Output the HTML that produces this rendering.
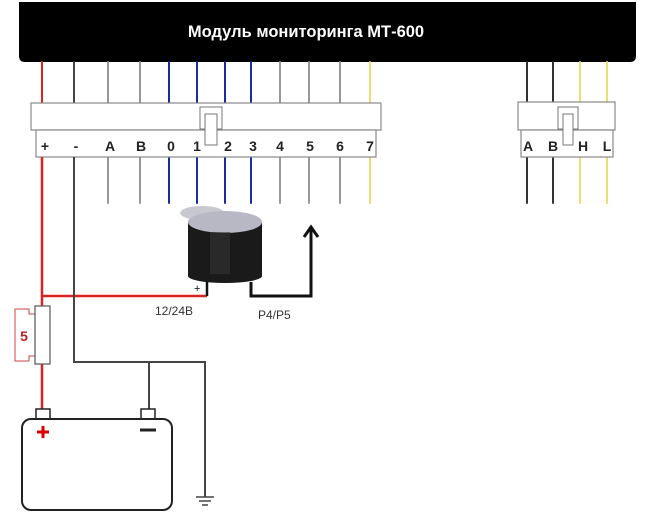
<!DOCTYPE html>
<html><head><meta charset="utf-8"><style>
html,body{margin:0;padding:0;background:#fff;}
svg{display:block;}
text{font-family:"Liberation Sans","DejaVu Sans",sans-serif;}
</style></head><body>
<svg width="656" height="522" viewBox="0 0 656 522" xmlns="http://www.w3.org/2000/svg">
<rect x="0" y="0" width="656" height="522" fill="#fff"/>
<path d="M19 2 H636 V56 Q636 62 630 62 H25 Q19 62 19 56 Z" fill="#000"/>
<text x="306" y="37" fill="#fff" font-size="16.5" font-weight="bold" text-anchor="middle">Модуль мониторинга МТ-600</text>
<g stroke-width="2" fill="none" stroke-linecap="round">
<line x1="42" y1="62" x2="42" y2="103" stroke="#d22"/>
<line x1="74" y1="62" x2="74" y2="103" stroke="#444"/>
<line x1="108" y1="62" x2="108" y2="203" stroke="#999"/>
<line x1="140" y1="62" x2="140" y2="203" stroke="#999"/>
<line x1="169" y1="62" x2="169" y2="203" stroke="#1a2aa0"/>
<line x1="197" y1="62" x2="197" y2="203" stroke="#1a2aa0"/>
<line x1="225" y1="62" x2="225" y2="203" stroke="#1a2aa0"/>
<line x1="251" y1="62" x2="251" y2="203" stroke="#1a2aa0"/>
<line x1="280" y1="62" x2="280" y2="203" stroke="#999"/>
<line x1="309" y1="62" x2="309" y2="203" stroke="#999"/>
<line x1="340" y1="62" x2="340" y2="203" stroke="#999"/>
<line x1="370" y1="62" x2="370" y2="203" stroke="#e8e070"/>
<line x1="527" y1="62" x2="527" y2="203" stroke="#333"/>
<line x1="553" y1="62" x2="553" y2="203" stroke="#333"/>
<line x1="580" y1="62" x2="580" y2="203" stroke="#e8e070"/>
<line x1="607" y1="62" x2="607" y2="203" stroke="#e8e070"/>
</g>
<rect x="31" y="103" width="350" height="27" fill="#fff" stroke="#888" stroke-width="1.2"/>
<rect x="36" y="130" width="340" height="27" fill="#fff" stroke="#888" stroke-width="1.2"/>
<rect x="200" y="107" width="22" height="22" fill="#fff" stroke="#777"/>
<rect x="205" y="114" width="12" height="31" fill="#fff" stroke="#777"/>
<g font-size="14" font-weight="bold" fill="#222" text-anchor="middle">
<text x="45" y="151">+</text><text x="76" y="151">-</text><text x="110" y="151">A</text><text x="141" y="151">B</text>
<text x="171" y="151">0</text><text x="197" y="151">1</text><text x="228" y="151">2</text><text x="253" y="151">3</text>
<text x="280" y="151">4</text><text x="310" y="151">5</text><text x="340" y="151">6</text><text x="370" y="151">7</text>
</g>
<rect x="518" y="102" width="97" height="28" fill="#fff" stroke="#888" stroke-width="1.2"/>
<rect x="521" y="130" width="92" height="27" fill="#fff" stroke="#888" stroke-width="1.2"/>
<rect x="558" y="107" width="20" height="22" fill="#fff" stroke="#777"/>
<rect x="563" y="114" width="10" height="31" fill="#fff" stroke="#777"/>
<g font-size="14" font-weight="bold" fill="#222" text-anchor="middle">
<text x="528" y="151">A</text><text x="553" y="151">B</text><text x="583" y="151">H</text><text x="607" y="151">L</text>
</g>
<line x1="42" y1="157" x2="42" y2="306" stroke="#d22" stroke-width="2.5"/>
<line x1="42" y1="296" x2="207" y2="296" stroke="#d22" stroke-width="2.5"/>
<line x1="42" y1="364" x2="42" y2="412" stroke="#d22" stroke-width="2.5"/>
<polyline points="74,157 74,362 205,362 205,497" fill="none" stroke="#444" stroke-width="2"/>
<line x1="149" y1="362" x2="149" y2="412" stroke="#444" stroke-width="2"/>
<g stroke="#444" stroke-width="1.5">
<line x1="196" y1="497" x2="214" y2="497"/><line x1="199" y1="501" x2="211" y2="501"/><line x1="202" y1="505" x2="208" y2="505"/>
</g>
<path d="M15 309 H29 V314 H35 V356 H29 V361 H15 Z" fill="#fff" stroke="#c44" stroke-width="1"/>
<text x="24" y="341" font-size="14" font-weight="bold" fill="#b22" text-anchor="middle">5</text>
<rect x="35" y="306" width="15" height="58" fill="#fff" stroke="#555" stroke-width="1.2"/>
<rect x="36" y="409" width="14" height="10" fill="#fff" stroke="#222" stroke-width="1.5"/>
<rect x="141" y="409" width="14" height="10" fill="#fff" stroke="#222" stroke-width="1.5"/>
<rect x="22" y="419" width="150" height="91" rx="9" fill="#fff" stroke="#222" stroke-width="2"/>
<path d="M37 432 H49 M43 426 V438" stroke="#d00" stroke-width="3"/>
<line x1="140" y1="430" x2="156" y2="430" stroke="#222" stroke-width="3"/>
<polyline points="207,296 207,282" fill="none" stroke="#111" stroke-width="2.5"/>
<polyline points="251,282 251,296 311,296 311,228" fill="none" stroke="#111" stroke-width="3"/>
<polyline points="304,237 311,227 318,237" fill="none" stroke="#111" stroke-width="3"/>
<ellipse cx="202" cy="213" rx="22" ry="7" fill="#c8c8d0"/>
<rect x="188" y="222" width="74" height="54" fill="#1a1a1a"/>
<ellipse cx="225" cy="276" rx="37" ry="7" fill="#1a1a1a"/>
<ellipse cx="225" cy="222" rx="37" ry="11" fill="#b8b8c4"/>
<rect x="210" y="232" width="20" height="42" fill="#333" opacity="0.6"/>
<text x="194" y="292" font-size="11" fill="#111">+</text>
<text x="155" y="315" font-size="12" fill="#333">12/24В</text>
<text x="258" y="319" font-size="12" fill="#333">P4/P5</text>
</svg>
</body></html>
